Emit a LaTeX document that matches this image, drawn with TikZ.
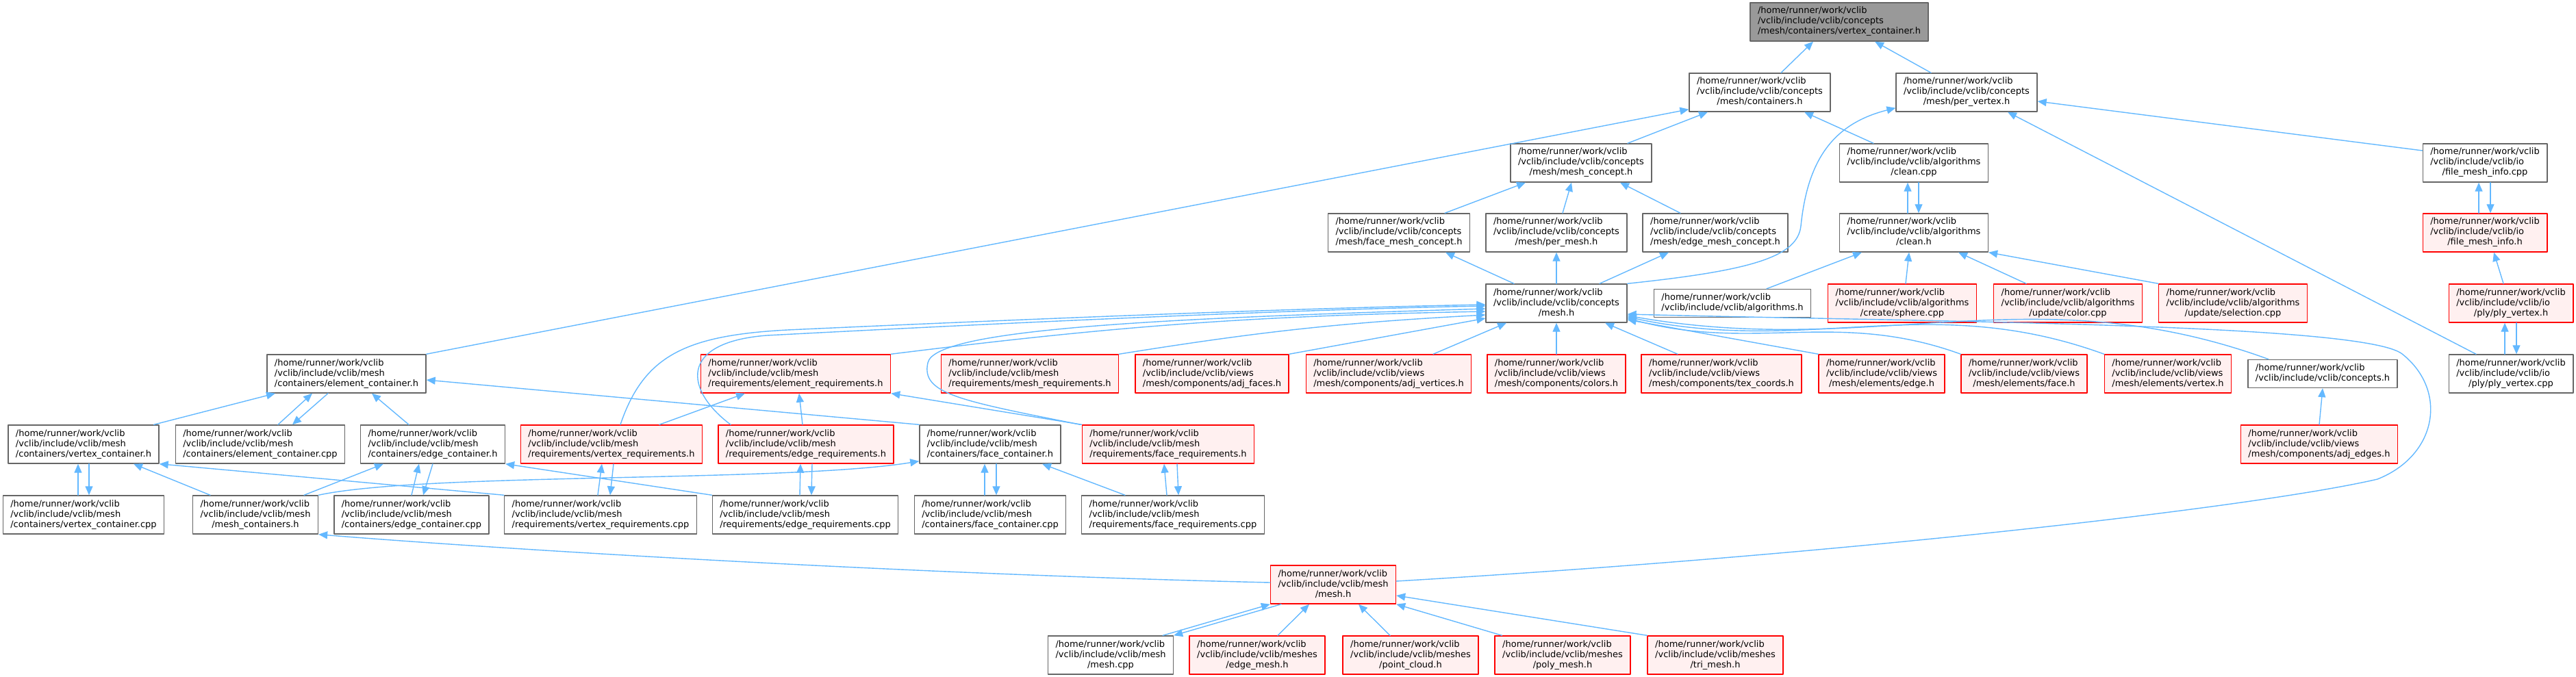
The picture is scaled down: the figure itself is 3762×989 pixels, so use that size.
\documentclass[tikz,border=0pt]{standalone}
\usepackage{fontspec}
\setmainfont{DejaVu Sans}
\usetikzlibrary{arrows.meta}
\definecolor{EdgeBlue}{HTML}{63B8FF}
\definecolor{BoxGray}{HTML}{666666}
\definecolor{RedFill}{HTML}{FFF0F0}
\definecolor{CurFill}{HTML}{999999}
\newcommand{\vpath}[2]{\begin{tabular}{@{}l@{}}/home/runner/work/vclib\\/vclib/include/vclib/#1\\\multicolumn{1}{@{}c@{}}{#2}\end{tabular}}
\newcommand{\vpathtwo}[1]{\begin{tabular}{@{}l@{}}/home/runner/work/vclib\\/vclib/include/vclib/#1\end{tabular}}

\begin{document}
\begin{tikzpicture}[x=0.5pt,y=-0.5pt,line cap=round,line join=round,
  filebox/.style={draw=BoxGray,fill=white,line width=0.7pt,inner xsep=5.5pt,inner ysep=2.75pt,font=\fontsize{6.5}{7.5}\selectfont},
  redbox/.style={filebox,draw=red,fill=RedFill},
  curbox/.style={filebox,fill=CurFill},
  incl/.style={EdgeBlue,line width=0.7pt,-{Triangle[length=6.5pt,width=5.5pt]}}]
  \useasboundingbox (0,0) rectangle (3762,989);
  \node[curbox] (top) at (2686,32) {\vpath{concepts}{/mesh/containers/vertex\_container.h}};
  \node[filebox] (cont) at (2570,135) {\vpath{concepts}{/mesh/containers.h}};
  \node[filebox] (pv) at (2872,135) {\vpath{concepts}{/mesh/per\_vertex.h}};
  \node[filebox] (mc) at (2309,238) {\vpath{concepts}{/mesh/mesh\_concept.h}};
  \node[filebox] (cleancpp) at (2795,238) {\vpath{algorithms}{/clean.cpp}};
  \node[filebox] (fmicpp) at (3629,238) {\vpath{io}{/file\_mesh\_info.cpp}};
  \node[filebox] (facemc) at (2043,340) {\vpath{concepts}{/mesh/face\_mesh\_concept.h}};
  \node[filebox] (permesh) at (2273,340) {\vpath{concepts}{/mesh/per\_mesh.h}};
  \node[filebox] (edgemc) at (2505,340) {\vpath{concepts}{/mesh/edge\_mesh\_concept.h}};
  \node[filebox] (cleanh) at (2795,340) {\vpath{algorithms}{/clean.h}};
  \node[redbox] (fmih) at (3629,340) {\vpath{io}{/file\_mesh\_info.h}};
  \node[filebox] (meshh) at (2273,443) {\vpath{concepts}{/mesh.h}};
  \node[filebox] (algh) at (2530,443) {\vpathtwo{algorithms.h}};
  \node[redbox] (sphere) at (2778,443) {\vpath{algorithms}{/create/sphere.cpp}};
  \node[redbox] (color) at (3020,443) {\vpath{algorithms}{/update/color.cpp}};
  \node[redbox] (selection) at (3261,443) {\vpath{algorithms}{/update/selection.cpp}};
  \node[redbox] (plyh) at (3667,443) {\vpath{io}{/ply/ply\_vertex.h}};
  \node[filebox] (elemcont) at (506,546) {\vpath{mesh}{/containers/element\_container.h}};
  \node[redbox] (elemreq) at (1162,546) {\vpath{mesh}{/requirements/element\_requirements.h}};
  \node[redbox] (meshreq) at (1504,546) {\vpath{mesh}{/requirements/mesh\_requirements.h}};
  \node[redbox] (adjfaces) at (1770,546) {\vpath{views}{/mesh/components/adj\_faces.h}};
  \node[redbox] (adjverts) at (2028,546) {\vpath{views}{/mesh/components/adj\_vertices.h}};
  \node[redbox] (colors) at (2273,546) {\vpath{views}{/mesh/components/colors.h}};
  \node[redbox] (texcoords) at (2514,546) {\vpath{views}{/mesh/components/tex\_coords.h}};
  \node[redbox] (edgeh) at (2748,546) {\vpath{views}{/mesh/elements/edge.h}};
  \node[redbox] (faceh) at (2956,546) {\vpath{views}{/mesh/elements/face.h}};
  \node[redbox] (vertexh) at (3166,546) {\vpath{views}{/mesh/elements/vertex.h}};
  \node[filebox] (conceptsh) at (3392,546) {\vpathtwo{concepts.h}};
  \node[filebox] (plycpp) at (3667,546) {\vpath{io}{/ply/ply\_vertex.cpp}};
  \node[filebox] (vcontmesh) at (122,649) {\vpath{mesh}{/containers/vertex\_container.h}};
  \node[filebox] (elemcontcpp) at (380,649) {\vpath{mesh}{/containers/element\_container.cpp}};
  \node[filebox] (edgecont) at (632,649) {\vpath{mesh}{/containers/edge\_container.h}};
  \node[redbox] (vreq) at (893,649) {\vpath{mesh}{/requirements/vertex\_requirements.h}};
  \node[redbox] (ereq) at (1177,649) {\vpath{mesh}{/requirements/edge\_requirements.h}};
  \node[filebox] (facecont) at (1446,649) {\vpath{mesh}{/containers/face\_container.h}};
  \node[redbox] (facereq) at (1706,649) {\vpath{mesh}{/requirements/face\_requirements.h}};
  \node[redbox] (adjedges) at (3387,649) {\vpath{views}{/mesh/components/adj\_edges.h}};
  \node[filebox] (vcontcpp) at (122,752) {\vpath{mesh}{/containers/vertex\_container.cpp}};
  \node[filebox] (meshcont) at (373,752) {\vpath{mesh}{/mesh\_containers.h}};
  \node[filebox] (edgecontcpp) at (601,752) {\vpath{mesh}{/containers/edge\_container.cpp}};
  \node[filebox] (vreqcpp) at (877,752) {\vpath{mesh}{/requirements/vertex\_requirements.cpp}};
  \node[filebox] (ereqcpp) at (1176,752) {\vpath{mesh}{/requirements/edge\_requirements.cpp}};
  \node[filebox] (facecontcpp) at (1446,752) {\vpath{mesh}{/containers/face\_container.cpp}};
  \node[filebox] (facereqcpp) at (1713,752) {\vpath{mesh}{/requirements/face\_requirements.cpp}};
  \node[redbox] (meshmesh) at (1947,854) {\vpath{mesh}{/mesh.h}};
  \node[filebox] (meshcpp) at (1622,957) {\vpath{mesh}{/mesh.cpp}};
  \node[redbox] (edgemesh) at (1836,957) {\vpath{meshes}{/edge\_mesh.h}};
  \node[redbox] (pointcloud) at (2060,957) {\vpath{meshes}{/point\_cloud.h}};
  \node[redbox] (polymesh) at (2282,957) {\vpath{meshes}{/poly\_mesh.h}};
  \node[redbox] (trimesh) at (2505,957) {\vpath{meshes}{/tri\_mesh.h}};
  \draw[incl] ([xshift=15.5pt]cont.north) -- ([xshift=-19pt]top.south);
  \draw[incl] ([xshift=-26pt]pv.north) -- ([xshift=26pt]top.south);
  \draw[incl] (elemcont.north east) -- ([yshift=2pt]cont.south west);
  \draw[incl] ([xshift=34pt]mc.north) -- ([xshift=-38pt]cont.south);
  \draw[incl] ([xshift=-29.5pt]cleancpp.north) -- ([xshift=32.5pt]cont.south);
  \draw[incl] (meshh.north east) .. controls (2560,395) and (2625,375) .. (2630,330) .. controls (2640,230) and (2680,180) .. ([yshift=3pt]pv.south west);
  \draw[incl] ([xshift=-25.5pt]plycpp.north) -- ([xshift=30pt]pv.south);
  \draw[incl] ([yshift=9pt]fmicpp.west) -- ([yshift=-6.5pt]pv.east);
  \draw[incl] ([xshift=33.5pt]facemc.north) -- ([xshift=-40.5pt]mc.south);
  \draw[incl] ([xshift=4.5pt]permesh.north) -- ([xshift=-7pt]mc.south);
  \draw[incl] ([xshift=-25.5pt]edgemc.north) -- ([xshift=28.5pt]mc.south);
  \draw[incl] ([xshift=-4.5pt]cleanh.north) -- ([xshift=-4.5pt]cleancpp.south);
  \draw[incl] ([xshift=3.5pt]cleancpp.south) -- ([xshift=3.5pt]cleanh.north);
  \draw[incl] ([xshift=-4.5pt]fmih.north) -- ([xshift=-4.5pt]fmicpp.south);
  \draw[incl] ([xshift=4pt]fmicpp.south) -- ([xshift=4pt]fmih.north);
  \draw[incl] ([xshift=-31pt]meshh.north) -- ([xshift=34pt]facemc.south);
  \draw[incl] (meshh.north) -- (permesh.south);
  \draw[incl] ([xshift=31.5pt]meshh.north) -- ([xshift=-34pt]edgemc.south);
  \draw[incl] ([xshift=25pt]algh.north) -- ([xshift=-38pt]cleanh.south);
  \draw[incl] ([xshift=2.5pt]sphere.north) -- ([xshift=-3.5pt]cleanh.south);
  \draw[incl] ([xshift=-30.5pt]color.north) -- ([xshift=32.5pt]cleanh.south);
  \draw[incl] (selection.north west) -- (cleanh.south east);
  \draw[incl] ([xshift=-5.5pt]plyh.north) -- ([xshift=6.5pt]fmih.south);
  \draw[incl] ([xshift=-4.5pt]plycpp.north) -- ([xshift=-4.5pt]plyh.south);
  \draw[incl] ([xshift=4pt]plyh.south) -- ([xshift=4pt]plycpp.north);
  \draw[incl] (elemreq.north east) to[bend left=3] ([yshift=-6pt]meshh.west);
  \draw[incl] (meshreq.north east) to[bend left=3] ([yshift=-8.5pt]meshh.west);
  \draw[incl] (adjfaces.north east) -- ([yshift=-11pt]meshh.west);
  \draw[incl] ([xshift=32.5pt]adjverts.north) -- ([xshift=-36.5pt]meshh.south);
  \draw[incl] (colors.north) -- (meshh.south);
  \draw[incl] ([xshift=-32pt]texcoords.north) -- ([xshift=35.5pt]meshh.south);
  \draw[incl] (edgeh.north west) -- ([yshift=-12pt]meshh.east);
  \draw[incl] (faceh.north west) to[out=160,in=-15] ([yshift=-11pt]meshh.east);
  \draw[incl] (vertexh.north west) to[out=160,in=-12] ([yshift=-10pt]meshh.east);
  \draw[incl] ([xshift=-39.5pt]conceptsh.north) to[out=160,in=-10] ([yshift=-9pt]meshh.east);
  \draw[incl] ([yshift=2.5pt]meshmesh.east) .. controls (2700,810) and (3300,740) .. (3472,700) .. controls (3560,665) and (3575,570) .. (3508,517) .. controls (3450,472) and (2800,470) .. ([yshift=-8pt]meshh.east);
  \draw[incl] ([xshift=6.5pt]vreq.north) .. controls (940,520) and (1000,490) .. (1150,482) .. controls (1500,466) and (1900,450) .. ([yshift=-1pt]meshh.west);
  \draw[incl] ([xshift=-55pt]ereq.north) .. controls (1000,570) and (990,500) .. (1120,490) .. controls (1500,470) and (1900,452) .. ([yshift=-2pt]meshh.west);
  \draw[incl] ([xshift=-1pt]facereq.north west) .. controls (1400,585) and (1345,575) .. (1355,530) .. controls (1365,480) and (1700,465) .. ([yshift=-4pt]meshh.west);
  \draw[incl] (adjedges.north) -- (conceptsh.south);
  \draw[incl] ([xshift=-4pt]vcontmesh.north east) -- ([xshift=-52pt]elemcont.south);
  \draw[incl] ([xshift=13pt]elemcontcpp.north) -- ([xshift=-25pt]elemcont.south);
  \draw[incl] ([xshift=-13.5pt]elemcont.south) -- ([xshift=23.5pt]elemcontcpp.north);
  \draw[incl] ([xshift=-17.5pt]edgecont.north) -- ([xshift=18.5pt]elemcont.south);
  \draw[incl] (facecont.north west) -- ([yshift=-4.5pt]elemcont.east);
  \draw[incl] ([xshift=35pt]vreq.north) -- ([xshift=-37pt]elemreq.south);
  \draw[incl] ([xshift=-2.5pt]ereq.north) -- ([xshift=2.5pt]elemreq.south);
  \draw[incl] (facereq.north west) -- (elemreq.south east);
  \draw[incl] ([xshift=-4pt]vcontcpp.north) -- ([xshift=-4pt]vcontmesh.south);
  \draw[incl] ([xshift=4pt]vcontmesh.south) -- ([xshift=4pt]vcontcpp.north);
  \draw[incl] ([xshift=-33pt]meshcont.north) -- ([xshift=36.5pt]vcontmesh.south);
  \draw[incl] (vreqcpp.north west) -- (vcontmesh.south east);
  \draw[incl] ([xshift=35.5pt]meshcont.north) -- ([xshift=-36pt]edgecont.south);
  \draw[incl] (edgecontcpp.north) -- ([xshift=-10pt]edgecont.south);
  \draw[incl] (edgecont.south) -- ([xshift=8.5pt]edgecontcpp.north);
  \draw[incl] (ereqcpp.north west) -- (edgecont.south east);
  \draw[incl] ([xshift=-2pt]vreqcpp.north) -- ([xshift=-7pt]vreq.south);
  \draw[incl] ([xshift=1.5pt]vreq.south) -- ([xshift=7pt]vreqcpp.north);
  \draw[incl] ([xshift=-4pt]ereqcpp.north) -- ([xshift=-4pt]ereq.south);
  \draw[incl] ([xshift=4.5pt]ereq.south) -- ([xshift=4.5pt]ereqcpp.north);
  \draw[incl] (meshcont.north east) .. controls (620,690) and (1150,705) .. ([yshift=2pt]facecont.south west);
  \draw[incl] ([xshift=-4pt]facecontcpp.north) -- ([xshift=-4pt]facecont.south);
  \draw[incl] ([xshift=4.5pt]facecont.south) -- ([xshift=4.5pt]facecontcpp.north);
  \draw[incl] ([xshift=-35pt]facereqcpp.north) -- ([xshift=38pt]facecont.south);
  \draw[incl] ([xshift=-4.5pt]facereqcpp.north) -- ([xshift=-3pt]facereq.south);
  \draw[incl] ([xshift=6.5pt]facereq.south) -- ([xshift=4pt]facereqcpp.north);
  \draw[incl] ([yshift=1.5pt]meshmesh.west) .. controls (1300,838) and (700,800) .. (meshcont.south east);
  \draw[incl] ([xshift=-8pt]meshcpp.north east) -- (meshmesh.south west);
  \draw[incl] ([xshift=8pt]meshmesh.south west) -- (meshcpp.north east);
  \draw[incl] ([xshift=15pt]edgemesh.north) -- ([xshift=-17.5pt]meshmesh.south);
  \draw[incl] ([xshift=-15pt]pointcloud.north) -- ([xshift=18.5pt]meshmesh.south);
  \draw[incl] ([xshift=5.5pt]polymesh.north west) -- (meshmesh.south east);
  \draw[incl] (trimesh.north west) -- ([yshift=-8pt]meshmesh.east);
\end{tikzpicture}
\end{document}
